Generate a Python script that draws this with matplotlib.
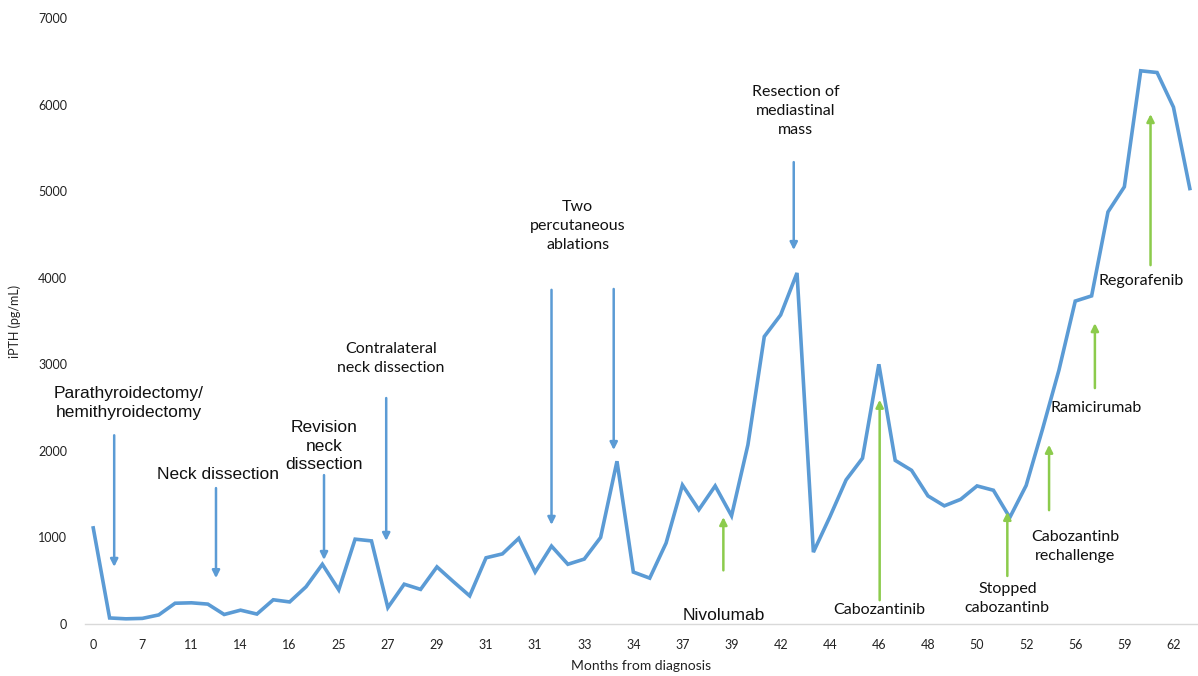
import matplotlib
matplotlib.use("Agg")
import matplotlib.pyplot as plt
import numpy as np

# iPTH readings (pg/mL), one per visit
ipth = [1110, 70, 60, 65, 105, 240, 245, 230, 110, 160,
        115, 280, 255, 430, 690, 395, 980, 960, 190, 460,
        400, 660, 490, 325, 765, 810, 990, 600, 900, 690,
        750, 1000, 1880, 600, 530, 935, 1605, 1320, 1595, 1250,
        2070, 3320, 3570, 4055, 830, 1235, 1665, 1915, 3000, 1890,
        1775, 1480, 1365, 1440, 1595, 1545, 1230, 1600, 2250, 2930,
        3730, 3790, 4760, 5050, 6390, 6370, 5970, 5030]

# every third visit is labelled with months from diagnosis
month_labels = ['0', '7', '11', '14', '16', '25', '27', '29', '31', '31', '33', '34',
                '37', '39', '42', '44', '46', '48', '50', '52', '56', '59', '62']

# procedures (blue, pointing down): text, text x, text y, arrow x, arrow tail, arrow head
procedures = [
    ("Parathyroidectomy/\nhemithyroidectomy", 2.15, 2550, 1.28, 2180, 660),
    ("Neck dissection", 7.6, 1730, 7.5, 1570, 530),
    ("Revision\nneck\ndissection", 14.1, 2055, 14.1, 1720, 740),
    ("Contralateral\nneck dissection", 18.2, 3070, 17.9, 2610, 960),
    ("Two\npercutaneous\nablations", 29.6, 4595, 28.0, 3860, 1145),
    (None, None, None, 31.8, 3870, 2010),
    ("Resection of\nmediastinal\nmass", 42.9, 5925, 42.8, 5335, 4320),
]

# systemic therapies (green, pointing up)
therapies = [
    ("Nivolumab", 38.5, 100, 38.5, 620, 1235),
    ("Cabozantinib", 48.05, 160, 48.05, 275, 2590),
    ("Stopped\ncabozantinb", 55.85, 290, 55.85, 555, 1295),
    ("Cabozantinb\nrechallenge", 60.0, 900, 58.4, 1315, 2070),
    ("Ramicirumab", 61.3, 2495, 61.2, 2725, 3475),
    ("Regorafenib", 64.0, 3960, 64.6, 4145, 5890),
]

blue = '#5B9BD5'
green = '#8CCB4C'
calibri_like = ['Lato', 'DejaVu Sans']
arial_like = ['Liberation Sans', 'DejaVu Sans']

fig = plt.figure(figsize=(11.98, 6.76), dpi=100)
ax = fig.add_axes([0.071, 0.0769, 0.929, 0.8965])

x = np.arange(len(ipth))
ax.plot(x, ipth, color=blue, lw=2.6, solid_joinstyle='miter', zorder=3)

ax.set_xlim(-0.5, len(ipth) - 0.5)
ax.set_ylim(0, 7000)
ax.set_yticks(np.arange(0, 7001, 1000))
ax.set_xticks(x[::3])
ax.set_xticklabels(month_labels)
for lab in ax.get_xticklabels() + ax.get_yticklabels():
    lab.set_family(calibri_like)
    lab.set_fontsize(9)
    lab.set_color('#222222')
ax.tick_params(axis='both', length=0)
ax.tick_params(axis='x', pad=11)
ax.tick_params(axis='y', pad=13)

for side in ['top', 'right', 'left']:
    ax.spines[side].set_visible(False)
ax.spines['bottom'].set_color('#d9d9d9')
ax.spines['bottom'].set_linewidth(1.0)

ax.set_xlabel("Months from diagnosis", family=calibri_like, fontsize=10, color='#222222', labelpad=6)
ax.set_ylabel("iPTH (pg/mL)", family=calibri_like, fontsize=9, color='#222222', labelpad=12)

for i, (txt, tx, ty, axx, tail, head) in enumerate(procedures):
    ax.annotate('', xy=(axx, head), xytext=(axx, tail),
                arrowprops=dict(arrowstyle='-|>', color=blue, lw=1.8, mutation_scale=11,
                                shrinkA=0, shrinkB=0), zorder=4)
    if txt is None:
        continue
    if i < 3:
        ax.text(tx, ty, txt, ha='center', va='center', family=arial_like, fontsize=12.5,
                color='#111111', linespacing=1.3)
    else:
        ax.text(tx, ty, txt, ha='center', va='center', family=calibri_like, fontsize=11.5,
                color='#111111', linespacing=1.45)

for i, (txt, tx, ty, axx, tail, head) in enumerate(therapies):
    ax.annotate('', xy=(axx, head), xytext=(axx, tail),
                arrowprops=dict(arrowstyle='-|>', color=green, lw=1.8, mutation_scale=11,
                                shrinkA=0, shrinkB=0), zorder=4)
    if i == 0:
        ax.text(tx, ty, txt, ha='center', va='center', family=arial_like, fontsize=12.5,
                color='#111111')
    else:
        ax.text(tx, ty, txt, ha='center', va='center', family=calibri_like, fontsize=11.5,
                color='#111111', linespacing=1.45)

fig.savefig('out.png', dpi=100)
